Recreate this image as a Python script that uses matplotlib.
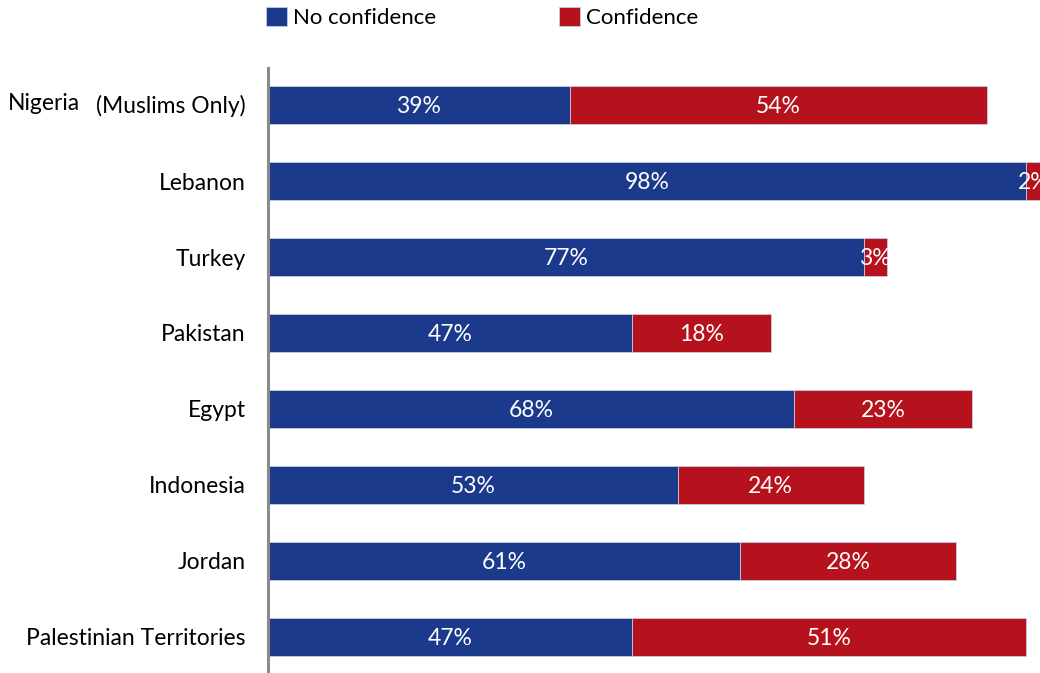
import numpy as np
import matplotlib.pyplot as plt

countries = ['Nigeria', 'Lebanon', 'Turkey', 'Pakistan', 'Egypt',
             'Indonesia', 'Jordan', 'Palestinian Territories']
no_conf = [39, 98, 77, 47, 68, 53, 61, 47]
conf = [54, 2, 3, 18, 23, 24, 28, 51]

blue = '#1c3a8b'
red = '#b5121d'
plt.rcParams['font.family'] = ['Lato', 'DejaVu Sans']
fs = 16.5

fig = plt.figure(figsize=(10.4, 6.73), dpi=100)
ax = fig.add_axes([268 / 1040, 0, 773.5 / 1040, 1 - 68 / 673])

y = np.arange(len(countries))
b1 = ax.barh(y, no_conf, height=0.5, color=blue, edgecolor='#c5cbe0',
             linewidth=0.6, label='No confidence')
b2 = ax.barh(y, conf, left=no_conf, height=0.5, color=red, edgecolor='#c5cbe0',
             linewidth=0.6, label='Confidence')

for i in range(len(countries)):
    ax.text(no_conf[i] / 2, i + 0.02, f'{no_conf[i]}%', color='white', fontsize=fs,
            ha='center', va='center')
    ax.text(no_conf[i] + conf[i] / 2, i + 0.02, f'{conf[i]}%', color='white', fontsize=fs,
            ha='center', va='center', clip_on=False)

ax.set_xlim(0, 100)
ax.set_ylim(7.474, -0.487)
ax.set_yticks(y)
labels = list(countries)
labels[0] = ''
ax.set_yticklabels(labels, fontsize=fs)
ax.tick_params(axis='y', length=0, pad=16)
ax.set_xticks([])
for s in ['top', 'right', 'bottom']:
    ax.spines[s].set_visible(False)
ax.spines['left'].set_color('#8a8a8a')
ax.spines['left'].set_linewidth(2.2)

# Nigeria label has a note attached
fig.text(8 / 1040, 1 - 103 / 673, 'Nigeria', fontsize=fs, ha='left', va='center')
fig.text(246 / 1040, 1 - 106 / 673, '(Muslims Only)', fontsize=fs, ha='right', va='center')

fig.legend(handles=[b1, b2], loc='upper left', bbox_to_anchor=(266 / 1040, 1 - 7 / 673),
           ncol=2, frameon=False, fontsize=16, handlelength=0.95, handleheight=0.95,
           handletextpad=0.25, columnspacing=5.55, borderpad=0, borderaxespad=0)

fig.savefig('out.png', dpi=100)
